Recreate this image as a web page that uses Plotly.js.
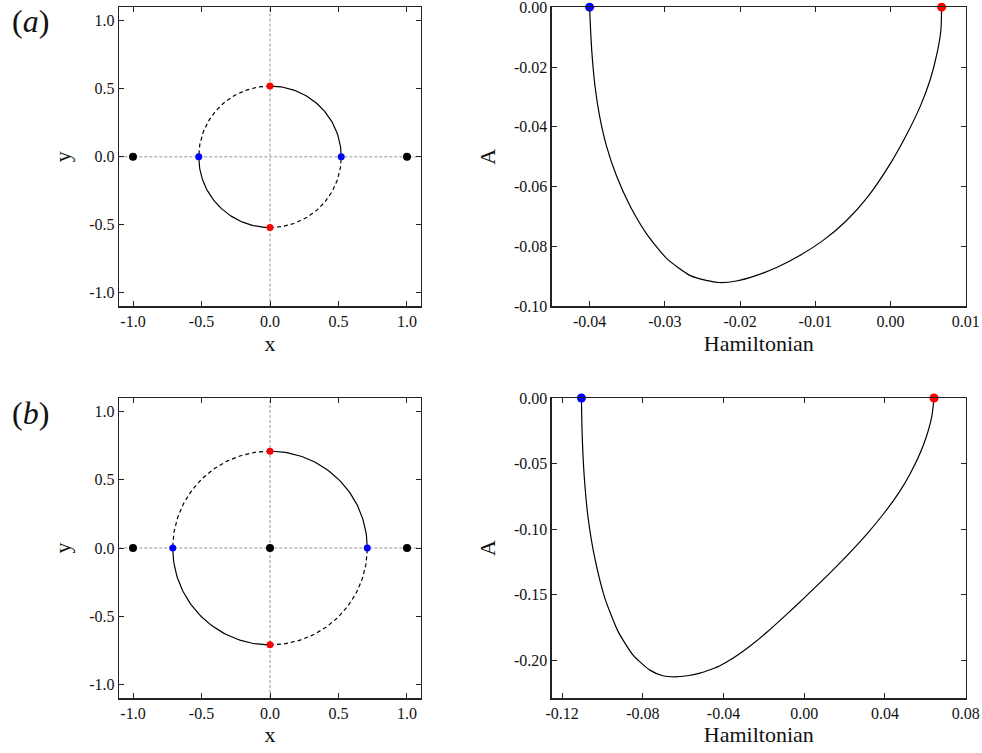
<!DOCTYPE html>
<html>
<head>
<meta charset="utf-8">
<script src="https://cdn.plot.ly/plotly-3.0.1.min.js"></script>
<style>html,body{margin:0;padding:0;background:#fff;}#chart{width:982px;height:753px;}</style>
</head>
<body>
<div id="chart"></div>
<script>
// ---------- data ----------
const circleRadius = [0.52, 0.71];           // (a), (b)
const fixedPtsX = [-1, 1];                  // black fixed points on x-axis
const originPtB = [0];                      // extra black point at origin in (b)

const hamA = [-0.0400,-0.0399,-0.0397,-0.0393,-0.0387,-0.0378,-0.0364,-0.0346,-0.0324,-0.0297,-0.0266,-0.0245,-0.0227,-0.0205,-0.0180,-0.0150,-0.0120,-0.0090,-0.0060,-0.0030,0.0000,0.0022,0.0040,0.0053,0.0062,0.0067,0.0068];
const areaA = [0,-0.0060,-0.0150,-0.0260,-0.0360,-0.0460,-0.0565,-0.0665,-0.0758,-0.0841,-0.0897,-0.0913,-0.0920,-0.0915,-0.0898,-0.0868,-0.0829,-0.0780,-0.0717,-0.0633,-0.0522,-0.0423,-0.0329,-0.0241,-0.0153,-0.0078,0];

const hamB = [-0.1104,-0.1101,-0.1091,-0.1071,-0.1038,-0.0988,-0.0922,-0.0848,-0.0765,-0.0700,-0.0641,-0.0580,-0.0517,-0.0460,-0.0420,-0.0352,-0.0270,-0.0187,-0.0090,0.0000,0.0144,0.0309,0.0400,0.0470,0.0524,0.0590,0.0631,0.0643];
const areaB = [0,-0.0250,-0.0582,-0.0914,-0.1221,-0.1527,-0.1783,-0.1962,-0.2077,-0.2120,-0.2128,-0.2120,-0.2100,-0.2070,-0.2045,-0.1985,-0.1895,-0.1790,-0.1655,-0.1525,-0.1310,-0.1040,-0.0870,-0.0720,-0.0580,-0.0360,-0.0150,0];

const circTicks = [-1.0,-0.5,0.0,0.5,1.0];
const circTickText = ['-1.0','-0.5','0.0','0.5','1.0'];
const hAxTicks = [-0.04,-0.03,-0.02,-0.01,0.00,0.01];
const hAxTickText = ['-0.04','-0.03','-0.02','-0.01','0.00','0.01'];
const aAyTicks = [0,-0.02,-0.04,-0.06,-0.08,-0.10];
const aAyTickText = ['0.00','-0.02','-0.04','-0.06','-0.08','-0.10'];
const hBxTicks = [-0.12,-0.08,-0.04,0.00,0.04,0.08];
const hBxTickText = ['-0.12','-0.08','-0.04','0.00','0.04','0.08'];
const aByTicks = [0,-0.05,-0.10,-0.15,-0.20];
const aByTickText = ['0.00','-0.05','-0.10','-0.15','-0.20'];
const panelLabels = ['(<i>a</i>)','(<i>b</i>)'];

// ---------- build ----------
const FONT = 'Liberation Serif';
const traces = [];

function arc(r, a0, a1) {
  const xs = [], ys = [];
  for (let i = 0; i <= 60; i++) {
    const t = (a0 + (a1 - a0) * i / 60) * Math.PI / 180;
    xs.push(r * Math.cos(t)); ys.push(r * Math.sin(t));
  }
  return {xs, ys};
}

function circlePanel(r, xa, ya, withOrigin) {
  const gl = {color:'rgb(185,185,185)', width:1.5, dash:'3px,2px'};
  traces.push({x:[-1.1,1.1], y:[0,0], xaxis:xa, yaxis:ya, mode:'lines', line:gl, hoverinfo:'skip'});
  traces.push({x:[0,0], y:[-1.1,1.1], xaxis:xa, yaxis:ya, mode:'lines', line:gl, hoverinfo:'skip'});
  [[0,90,'solid'],[90,180,'4px,3px'],[180,270,'solid'],[270,360,'4px,3px']].forEach(s => {
    const a = arc(r, s[0], s[1]);
    traces.push({x:a.xs, y:a.ys, xaxis:xa, yaxis:ya, mode:'lines', line:{color:'black', width:1.2, dash:s[2]}, hoverinfo:'skip'});
  });
  const bx = fixedPtsX.slice(), by = fixedPtsX.map(() => 0);
  if (withOrigin) { bx.push(originPtB[0]); by.push(0); }
  traces.push({x:bx, y:by, xaxis:xa, yaxis:ya, mode:'markers', marker:{color:'black', size:8}, cliponaxis:false});
  traces.push({x:[-r, r], y:[0,0], xaxis:xa, yaxis:ya, mode:'markers', marker:{color:'rgb(0,0,255)', size:7}, cliponaxis:false});
  traces.push({x:[0,0], y:[r,-r], xaxis:xa, yaxis:ya, mode:'markers', marker:{color:'rgb(255,0,0)', size:7}, cliponaxis:false});
}

function hamPanel(hx, ay, xa, ya) {
  traces.push({x:hx, y:ay, xaxis:xa, yaxis:ya, mode:'lines', line:{color:'black', width:1.2, shape:'spline', smoothing:0.6}, hoverinfo:'skip'});
  traces.push({x:[hx[0]], y:[ay[0]], xaxis:xa, yaxis:ya, mode:'markers', marker:{color:'rgb(0,0,255)', size:9}, cliponaxis:false});
  traces.push({x:[hx[hx.length-1]], y:[ay[ay.length-1]], xaxis:xa, yaxis:ya, mode:'markers', marker:{color:'rgb(255,0,0)', size:9}, cliponaxis:false});
}

circlePanel(circleRadius[0], 'x', 'y', false);
hamPanel(hamA, areaA, 'x2', 'y2');
circlePanel(circleRadius[1], 'x3', 'y3', true);
hamPanel(hamB, areaB, 'x4', 'y4');

function ax(domain, range, tv, tt, title, anchor, standoff) {
  return {
    domain, range, anchor, tickmode:'array', tickvals:tv, ticktext:tt,
    ticks:'inside', ticklen:5, tickwidth:1, tickcolor:'#222',
    showline:true, linecolor:'#222', linewidth:1.5, mirror:'ticks',
    showgrid:false, zeroline:false, automargin:false, ticklabeloverflow:'allow',
    tickfont:{family:FONT, size:16, color:'#111'},
    title:{text:title, font:{family:FONT, size:22, color:'#111'}, standoff},
  };
}

const xL = [0.1215, 0.4284], xR = [0.5621, 0.9834];
const yT = [0.5930, 0.9905], yB = [0.0730, 0.4714];

const layout = {
  width:982, height:753, margin:{l:0,r:0,t:0,b:0},
  font:{family:FONT, size:16, color:'#111'},
  paper_bgcolor:'#fff', plot_bgcolor:'#fff', showlegend:false,
  xaxis: ax(xL, [-1.1,1.1], circTicks, circTickText, 'x', 'y', 6),
  yaxis: ax(yT, [-1.1,1.1], circTicks, circTickText, 'y', 'x', 12),
  xaxis2: ax(xR, [-0.045,0.01], hAxTicks, hAxTickText, 'Hamiltonian', 'y2', 6),
  yaxis2: ax(yT, [-0.1,0], aAyTicks, aAyTickText, 'A', 'x2', 12),
  xaxis3: ax(xL, [-1.1,1.1], circTicks, circTickText, 'x', 'y3', 6),
  yaxis3: ax(yB, [-1.1,1.1], circTicks, circTickText, 'y', 'x3', 12),
  xaxis4: ax(xR, [-0.125,0.08], hBxTicks, hBxTickText, 'Hamiltonian', 'y4', 6),
  yaxis4: ax(yB, [-0.229,0], aByTicks, aByTickText, 'A', 'x4', 12),
  annotations: [
    {text:panelLabels[0], xref:'paper', yref:'paper', x:0.031, y:0.972, xanchor:'center', yanchor:'middle', showarrow:false, font:{family:FONT, size:32, color:'#111'}},
    {text:panelLabels[1], xref:'paper', yref:'paper', x:0.031, y:0.452, xanchor:'center', yanchor:'middle', showarrow:false, font:{family:FONT, size:32, color:'#111'}}
  ]
};

Plotly.newPlot('chart', traces, layout, {displayModeBar:false, staticPlot:true});
</script>
</body>
</html>
